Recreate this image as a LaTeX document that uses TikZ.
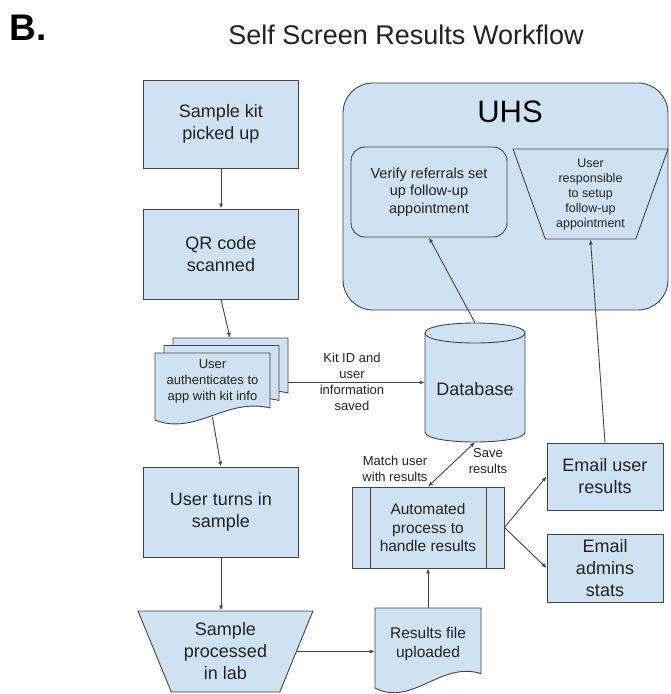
\documentclass[tikz,border=0pt]{standalone}
\usepackage{fontspec}
\setmainfont{Liberation Sans}
\usetikzlibrary{arrows.meta,shapes.geometric}

\definecolor{boxfill}{HTML}{CFE2F3}
\definecolor{edge}{HTML}{444444}
\definecolor{ink}{HTML}{222222}

% document shape with a wavy lower edge: x0, y0 (top left), width, height
\newcommand{\flowdocshape}[4]{%
  \filldraw[docbox] (#1,#2) -- ({#1+#3},#2) -- ({#1+#3},{#2+0.82*#4})
    .. controls ({#1+0.62*#3},{#2+0.66*#4}) and ({#1+0.35*#3},{#2+1.24*#4}) .. (#1,{#2+#4}) -- cycle;}

\tikzset{
  docbox/.style={fill=boxfill, draw=edge, line width=0.9pt},
  stepbox/.style={rectangle, fill=boxfill, draw=edge, line width=0.9pt, inner sep=0pt, align=center, text=ink},
  big/.style={font=\fontsize{18}{22}\selectfont},
  mid/.style={font=\fontsize{15.5}{18.5}\selectfont},
  small/.style={font=\fontsize{13}{16}\selectfont},
  conn/.style={draw=edge, line width=0.9pt, -{Latex[length=5pt,width=4pt]}},
  lbl/.style={align=center, text=ink, inner sep=0pt},
}

\begin{document}
\begin{tikzpicture}[x=1pt, y=-1pt]
\useasboundingbox (0,0) rectangle (670,694);

% headings
\node[lbl, font=\fontsize{37}{40}\selectfont\bfseries, text=black] (panel) at (28,28) {B.};
\node[lbl, font=\fontsize{27}{30}\selectfont] (title) at (406,35) {Self Screen Results Workflow};

% UHS container
\node[stepbox, rounded corners=30pt, minimum width=325pt, minimum height=227pt] (uhs) at (505.5,196.5) {};
\node[lbl, font=\fontsize{31}{34}\selectfont, text=black] (uhstitle) at (510,112) {UHS};
\node[stepbox, rounded corners=14pt, minimum width=156pt, minimum height=90pt, font=\fontsize{14.5}{17.5}\selectfont] (verify) at (429,192) {Verify referrals set\\up follow-up\\appointment};
\node[trapezium, trapezium stretches=true, shape border rotate=180,
      trapezium left angle=71, trapezium right angle=71,
      minimum width=155pt, minimum height=90pt, inner sep=0pt,
      fill=boxfill, draw=edge, line width=0.9pt, align=center, text=ink,
      font=\fontsize{12.5}{15}\selectfont] (resp) at (590.5,194) {User\\responsible\\to setup\\follow-up\\appointment};

% left column
\node[stepbox, big, minimum width=155pt, minimum height=88pt] (kit) at (221,124) {Sample kit\\picked up};
\node[stepbox, big, minimum width=155pt, minimum height=90pt] (qr) at (221,254) {QR code\\scanned};

\flowdocshape{173}{338}{115}{67}
\flowdocshape{164}{345.5}{115}{67}
\flowdocshape{155}{353}{115}{67}
\node[minimum width=115pt, minimum height=67pt, inner sep=0pt] (authback) at (230.5,371.5) {};
\node[lbl, small, minimum width=115pt, minimum height=57pt] (authfront) at (212.5,381.5) {User\\authenticates to\\app with kit info};

\node[stepbox, big, minimum width=155pt, minimum height=90pt] (turn) at (221,512) {User turns in\\sample};
\node[trapezium, trapezium stretches=true, shape border rotate=180,
      trapezium left angle=66, trapezium right angle=66,
      minimum width=175pt, minimum height=81pt, inner sep=0pt,
      fill=boxfill, draw=edge, line width=0.9pt, align=center, text=ink, big] (proc) at (225.5,651.5) {Sample\\processed\\in lab};

% database cylinder
\filldraw[docbox] (425,333) -- (425,432) .. controls (425,445.33) and (525,445.33) .. (525,432)
  -- (525,333) .. controls (525,319.67) and (425,319.67) .. cycle;
\draw[draw=edge, line width=0.9pt] (425,333) .. controls (425,346.33) and (525,346.33) .. (525,333);
\node[minimum width=100pt, minimum height=119pt, inner sep=0pt] (db) at (475,382.5) {};
\node[lbl, big] (dbtext) at (475,389) {Database};

% results handling
\flowdocshape{375}{608}{106}{80}
\node[lbl, mid, minimum width=106pt, minimum height=72pt] (results) at (428,644) {Results file\\uploaded};
\node[stepbox, mid, minimum width=152pt, minimum height=81pt] (auto) at (428,527.5) {Automated\\process to\\handle results};
\draw[draw=edge, line width=0.9pt] ([xshift=19pt]auto.north west) -- ([xshift=19pt]auto.south west);
\draw[draw=edge, line width=0.9pt] ([xshift=-18pt]auto.north east) -- ([xshift=-18pt]auto.south east);
\node[stepbox, big, minimum width=116pt, minimum height=67pt] (emailuser) at (605,476.5) {Email user\\results};
\node[stepbox, big, minimum width=116pt, minimum height=68pt] (emailadmin) at (605,568) {Email\\admins\\stats};

% connector labels
\node[lbl, small] (kitlbl) at (352,381.5) {Kit ID and\\user\\information\\saved};
\node[lbl, small] (matchlbl) at (395,469) {Match user\\with results};
\node[lbl, small] (savelbl) at (488,461) {Save\\results};

% connectors
\draw[conn] (kit.south) -- (qr.north);
\draw[conn] (qr.south) -- ([xshift=-0.5pt]authback.north);
\draw[conn] ([yshift=-7pt]authfront.south) -- (turn.north);
\draw[conn] (turn.south) -- (turn.south |- proc.north);
\draw[conn] (proc.east) -- (proc.east -| results.west);
\draw[conn] (results.north) -- (auto.south);
\draw[conn] (authback.east |- db.west) -- (db.west);
\draw[conn, {Latex[length=5pt,width=4pt]}-{Latex[length=5pt,width=4pt]}] (auto.north) -- (db.south);
\draw[conn] (auto.east) -- (emailuser.west);
\draw[conn] (auto.east) -- (emailadmin.west);
\draw[conn] (db.north) -- (verify.south);
\draw[conn] (emailuser.north) -- (resp.south);
\end{tikzpicture}
\end{document}
